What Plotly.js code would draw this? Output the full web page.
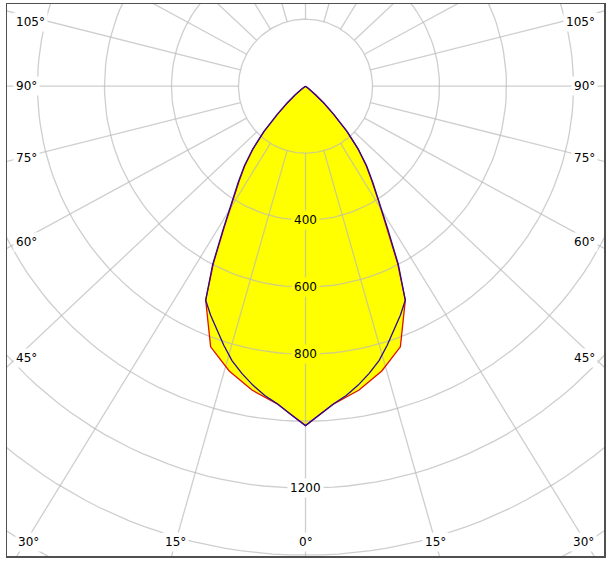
<!DOCTYPE html>
<html>
<head>
<meta charset="utf-8">
<script src="https://cdn.plot.ly/plotly-3.0.1.min.js"></script>
<style>
  html, body { margin: 0; padding: 0; background: #ffffff; }
  #chart { width: 611px; height: 565px; }
</style>
</head>
<body>
<div id="chart"></div>
<script>
// ---------- data ----------
// C0 - C180 plane (red), gamma angle in degrees from nadir
const gammaC0 = [0, 5, 10, 15, 20, 25, 27.5, 30, 32.5, 35, 37.5, 40, 42.5, 45, 47.5, 50, 52.5, 55, 60, 90];
const intensityC0 = [1013, 953, 921, 880, 828, 705, 595, 484, 405, 345, 296, 242, 182, 117, 73, 39, 14, 3, 0, 0];
// C90 - C270 plane (blue)
const gammaC90 = [0, 2.5, 5, 7.5, 10, 12.5, 15, 17.5, 20, 22.5, 25, 27.5, 30, 32.5, 35, 37.5, 40, 42.5, 45, 47.5, 50, 52.5, 55, 60, 90];
const intensityC90 = [1013, 982, 952, 931, 906, 878, 848, 811, 772, 740, 705, 600, 490, 410, 350, 300, 245, 185, 120, 75, 40, 15, 3, 0, 0];
const ringValues = [200, 400, 600, 800, 1000, 1200, 1400, 1600, 1800, 2000];
const ringLabelValues = [400, 600, 800, 1200];
const spokeAngles = [0, 15, 30, 45, 60, 75, 90, 105, 120, 135, 150, 165, 180, 195, 210, 225, 240, 255, 270, 285, 300, 315, 330, 345];

// ---------- geometry / style ----------
const S = 0.335;               // px per cd
const CX = 305.5, CY = 86.2;   // pixel position of the pole
const L = 7, R = 604, T = 4, B = 556;
const X0 = (L - CX) / S, X1 = (R - CX) / S;
const Y1 = (CY - T) / S, Y0 = (CY - B) / S;
const K = 0.94;                // spoke aspect of the original drawing
const FONT = {family: 'DejaVu Sans, Verdana, sans-serif', size: 12, color: '#000000'};
const GRID = 'rgba(185,185,185,0.7)';
const rad = d => d * Math.PI / 180;
const pxX = px => (px - CX) / S;
const pxY = py => (CY - py) / S;

function curvePath(angles, vals) {
  const xs = [0], ys = [0];
  let last = vals.length - 1;
  while (last > 0 && vals[last] === 0) last--;
  for (let i = last; i >= 0; i--) {
    xs.push(-vals[i] * Math.sin(rad(angles[i])));
    ys.push(-vals[i] * Math.cos(rad(angles[i])));
  }
  for (let i = 1; i <= last; i++) {
    xs.push(vals[i] * Math.sin(rad(angles[i])));
    ys.push(-vals[i] * Math.cos(rad(angles[i])));
  }
  xs.push(0); ys.push(0);
  return {xs, ys};
}

const red = curvePath(gammaC0, intensityC0);
const blue = curvePath(gammaC90, intensityC90);

// rings
const ringX = [], ringY = [];
ringValues.forEach(r => {
  for (let a = 0; a <= 360; a += 2) {
    ringX.push(r * Math.sin(rad(a)));
    ringY.push(r * Math.cos(rad(a)));
  }
  ringX.push(null); ringY.push(null);
});

// spokes
function dir(a) {
  const dx = Math.sin(rad(a)), dy = -K * Math.cos(rad(a));
  const n = Math.hypot(dx, dy);
  return [dx / n, dy / n];
}
const spokeX = [], spokeY = [];
spokeAngles.forEach(a => {
  const [dx, dy] = dir(a);
  spokeX.push(200 * dx, 3000 * dx, null);
  spokeY.push(200 * dy, 3000 * dy, null);
});

// annotations
const annotations = [];
ringLabelValues.forEach(v => {
  annotations.push({
    x: 0, y: -v, xref: 'x', yref: 'y', text: String(v), showarrow: false,
    font: FONT, bgcolor: v < intensityC0[0] ? '#ffff00' : '#ffffff',
    borderpad: 2, xanchor: 'center', yanchor: 'middle'
  });
});
spokeAngles.forEach(a => {
  const [dx, dy] = dir(a);
  const tSide = Math.abs(dx) > 1e-9 ? Math.abs(X1 / dx) : Infinity;
  const tVert = dy < 0 ? Y0 / dy : (dy > 0 ? Y1 / dy : Infinity);
  const label = (a <= 180 ? a : 360 - a) + '°';
  if (tSide < tVert) {
    const xt = Math.abs(pxX(22));
    let y = (xt / Math.abs(dx)) * dy;
    y = Math.min(y, pxY(22));
    if (dy < 0) y = y + (pxY(357) - pxY(352)) * Math.max(0, -dy - 0.3) / 0.4;
    annotations.push({
      x: dx < 0 ? pxX(13) : pxX(598), y: y, xref: 'x', yref: 'y', text: label,
      showarrow: false, font: FONT, bgcolor: '#ffffff', borderpad: 2,
      xanchor: dx < 0 ? 'left' : 'right', yanchor: 'middle'
    });
  } else if (dy < 0) {
    const yb = pxY(541.5);
    let x = (yb / dy) * dx;
    x = Math.max(pxX(28), Math.min(pxX(583), x));
    annotations.push({
      x: x, y: yb, xref: 'x', yref: 'y', text: label, showarrow: false,
      font: FONT, bgcolor: '#ffffff', borderpad: 2, xanchor: 'center', yanchor: 'middle'
    });
  }
});

const traces = [
  {x: red.xs, y: red.ys, type: 'scatter', mode: 'lines', fill: 'toself', fillcolor: '#ffff00',
   line: {width: 0, color: '#ffff00'}, hoverinfo: 'skip', showlegend: false},
  {x: blue.xs, y: blue.ys, type: 'scatter', mode: 'lines', fill: 'toself', fillcolor: '#ffff00',
   line: {width: 0, color: '#ffff00'}, hoverinfo: 'skip', showlegend: false},
  {x: ringX, y: ringY, type: 'scatter', mode: 'lines', line: {color: GRID, width: 1.3},
   hoverinfo: 'skip', showlegend: false},
  {x: spokeX, y: spokeY, type: 'scatter', mode: 'lines', line: {color: GRID, width: 1.3},
   hoverinfo: 'skip', showlegend: false},
  {x: red.xs, y: red.ys, type: 'scatter', mode: 'lines', name: 'C0 - C180',
   line: {color: '#e01000', width: 1.3}, hoverinfo: 'skip', showlegend: false},
  {x: blue.xs, y: blue.ys, type: 'scatter', mode: 'lines', name: 'C90 - C270',
   line: {color: '#2a0a9a', width: 1.3}, hoverinfo: 'skip', showlegend: false}
];

const axisBase = {showgrid: false, zeroline: false, showticklabels: false, ticks: '',
  showline: true, mirror: true, linecolor: '#505050', linewidth: 1.5, fixedrange: true};

const layout = {
  width: 611, height: 565,
  margin: {l: L, r: 611 - R, t: T, b: 565 - B},
  paper_bgcolor: '#ffffff', plot_bgcolor: '#ffffff',
  xaxis: Object.assign({range: [X0, X1]}, axisBase),
  yaxis: Object.assign({range: [Y0, Y1]}, axisBase),
  showlegend: false,
  annotations: annotations
};

Plotly.newPlot('chart', traces, layout, {displayModeBar: false, staticPlot: true});
</script>
</body>
</html>
